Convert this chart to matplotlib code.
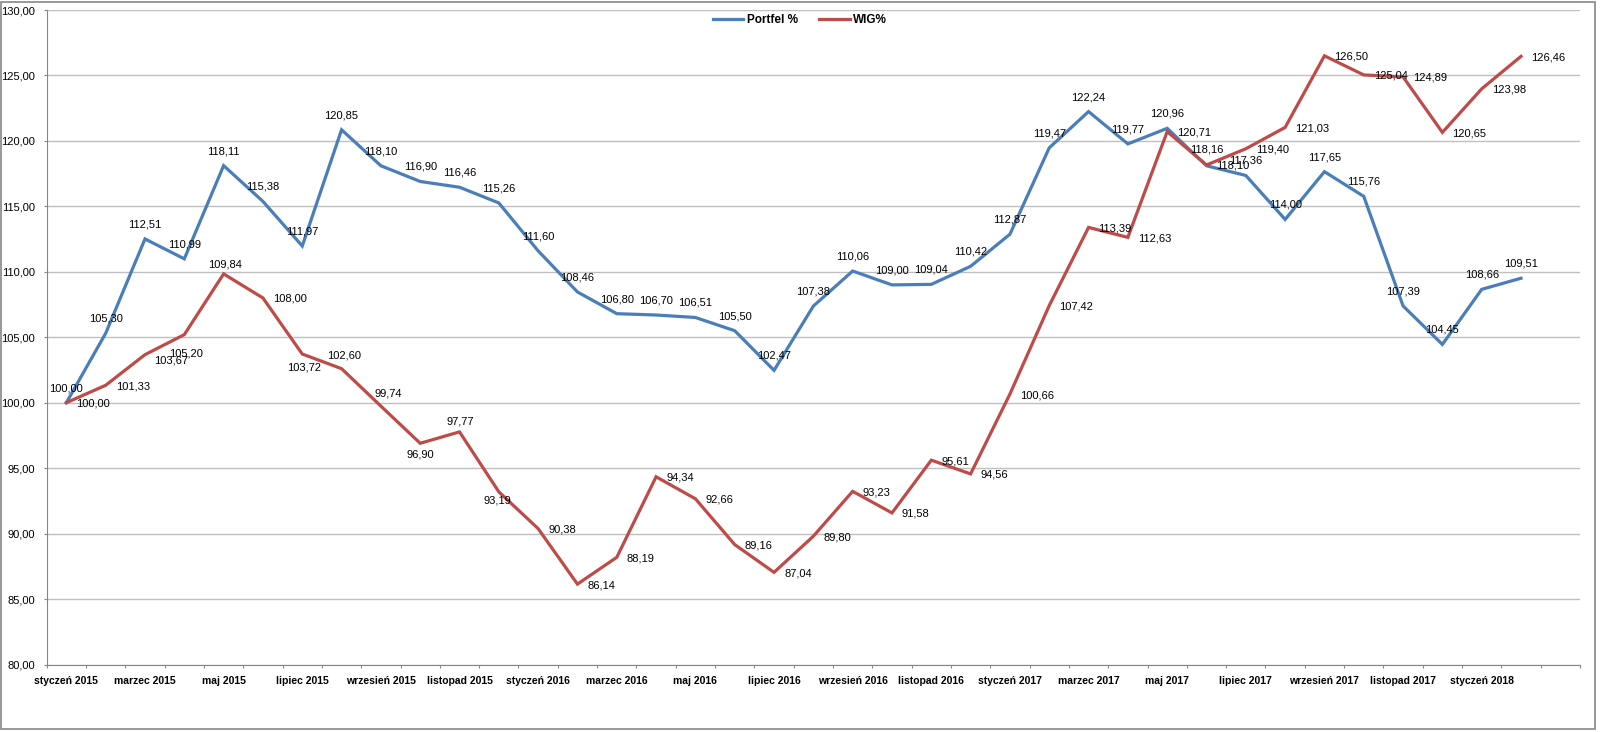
import matplotlib.pyplot as plt
from matplotlib.patches import Rectangle
import numpy as np

# miesiace (kategorie osi x)
miesiace = ['styczeń', 'luty', 'marzec', 'kwiecień', 'maj', 'czerwiec', 'lipiec',
            'sierpień', 'wrzesień', 'październik', 'listopad', 'grudzień']
kategorie = [m + ' ' + str(r) for r in [2015, 2016, 2017, 2018] for m in miesiace][:38]
kategorie = kategorie + ['']   # pusta ostatnia kategoria jak w excelu

portfel = [100.00, 105.30, 112.51, 110.99, 118.11, 115.38, 111.97, 120.85, 118.10, 116.90,
           116.46, 115.26, 111.60, 108.46, 106.80, 106.70, 106.51, 105.50, 102.47, 107.38,
           110.06, 109.00, 109.04, 110.42, 112.87, 119.47, 122.24, 119.77, 120.96, 118.10,
           117.36, 114.00, 117.65, 115.76, 107.39, 104.45, 108.66, 109.51]
wig = [100.00, 101.33, 103.67, 105.20, 109.84, 108.00, 103.72, 102.60, 99.74, 96.90,
       97.77, 93.19, 90.38, 86.14, 88.19, 94.34, 92.66, 89.16, 87.04, 89.80,
       93.23, 91.58, 95.61, 94.56, 100.66, 107.42, 113.39, 112.63, 120.71, 118.16,
       119.40, 121.03, 126.50, 125.04, 124.89, 120.65, 123.98, 126.46]

niebieski = '#4A7EBB'
czerwony = '#BE4B48'
szary = '#868686'

def fmt(v):
    return ('%.2f' % v).replace('.', ',')

plt.rcParams['font.family'] = ['Liberation Sans', 'DejaVu Sans']

fig = plt.figure(figsize=(16, 7.32), dpi=100)
ax = fig.add_axes([46.7/1600, 1-664.5/732, (1580-46.7)/1600, (664.5-10)/732])

x = np.arange(len(portfel))
ax.plot(x, portfel, color=niebieski, linewidth=2.3, label='Portfel %', solid_joinstyle='miter')
ax.plot(x, wig, color=czerwony, linewidth=2.3, label='WIG%', solid_joinstyle='miter')

# etykiety danych: domyslnie portfel nad punktem, wig z prawej
nad = ('center', 0, 14.5)
prawo = ('left', 10, -1)
wyjatki_portfel = {29: ('left', 10, 0)}
wyjatki_wig = {2: ('left', 9, -6), 3: ('center', 2, -19), 4: ('center', 1, 9),
               6: ('center', 2, -13), 7: ('center', 3, 13), 8: ('center', 7, 13),
               9: ('center', 0, -11), 10: ('center', 1, 10), 11: ('center', -1, -9),
               29: ('center', 0, 15.5)}

for i, v in enumerate(portfel):
    ha, dx, dy = wyjatki_portfel.get(i, nad)
    ax.annotate(fmt(v), (i, v), xytext=(dx, dy), textcoords='offset pixels',
                ha=ha, va='center', fontsize=8, color='black')
for i, v in enumerate(wig):
    ha, dx, dy = wyjatki_wig.get(i, prawo)
    ax.annotate(fmt(v), (i, v), xytext=(dx, dy), textcoords='offset pixels',
                ha=ha, va='center', fontsize=8, color='black')

ax.set_xlim(-0.5, len(kategorie) - 0.5)
ax.set_ylim(80, 130)
ax.set_yticks(np.arange(80, 131, 5))
ax.set_yticklabels([fmt(v) for v in np.arange(80, 131, 5)], fontsize=8)
ax.yaxis.grid(True, color='#BFBFBF', linewidth=1)
ax.set_axisbelow(True)

# ticki na granicach kategorii, podpisy co druga kategoria
ax.set_xticks(np.arange(len(kategorie) + 1) - 0.5)
ax.set_xticklabels([])
ax.set_xticks(np.arange(0, len(kategorie), 2), minor=True)
ax.set_xticklabels(kategorie[::2], minor=True, fontsize=7.5, fontweight='bold')
ax.tick_params(axis='x', which='major', length=2.5, color=szary, direction='out')
ax.tick_params(axis='x', which='minor', length=0, pad=8)
ax.tick_params(axis='y', length=2.5, color=szary, pad=6)

for s in ['top', 'right']:
    ax.spines[s].set_visible(False)
for s in ['left', 'bottom']:
    ax.spines[s].set_color(szary)

fig.legend(loc='center', bbox_to_anchor=(0.5, 1-20/732), ncol=2, frameon=False,
           handlelength=2.6, handletextpad=0.3, columnspacing=1.8,
           prop={'weight': 'bold', 'size': 8.5})

fig.add_artist(Rectangle((1/1600, 3/732), 1594/1600, 727/732, transform=fig.transFigure,
                         fill=False, edgecolor=szary, linewidth=1.2))

fig.savefig('out.png', dpi=100)
